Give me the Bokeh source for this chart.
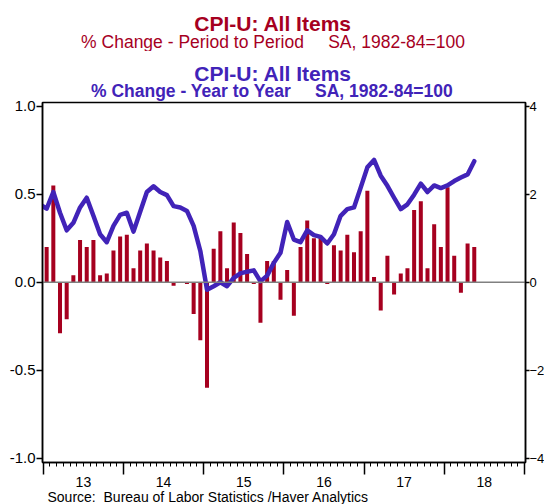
import pandas as pd
from bokeh.plotting import figure
from bokeh.layouts import column
from bokeh.models import (Range1d, LinearAxis, FixedTicker, NumeralTickFormatter,
                          Span, ColumnDataSource, Title)
from bokeh.core.properties import value
from bokeh.embed import file_html
from bokeh.resources import INLINE

# ---------------- data ----------------
months = [str(p) for p in pd.period_range("2012-12", "2018-05", freq="M")]

# CPI-U % change, period to period (left axis)
pct_period = [
    -0.02,
    0.20, 0.55, -0.29, -0.21, 0.04, 0.24, 0.20, 0.24, 0.04, 0.05, 0.18, 0.26,
    0.27, 0.08, 0.18, 0.22, 0.18, 0.14, 0.12, -0.02, 0.00, -0.01, -0.18, -0.33,
    -0.60, 0.19, 0.29, 0.08, 0.34, 0.28, 0.16, -0.01, -0.23, 0.12, 0.12, -0.10,
    0.07, -0.19, 0.20, 0.35, 0.25, 0.26, -0.01, 0.21, 0.18, 0.27, 0.17, 0.29,
    0.52, 0.03, -0.16, 0.15, -0.07, 0.05, 0.08, 0.41, 0.46, 0.08, 0.33, 0.20,
    0.54, 0.15, -0.06, 0.22, 0.20,
]

# CPI-U % change, year to year (right axis)
pct_year = [
    1.77,
    1.67, 2.05, 1.58, 1.18, 1.35, 1.70, 1.92, 1.51, 1.09, 0.91, 1.28, 1.53,
    1.58, 1.15, 1.60, 2.05, 2.18, 2.05, 1.98, 1.73, 1.70, 1.62, 1.28, 0.71,
    -0.17, -0.09, 0.00, -0.09, 0.10, 0.20, 0.24, 0.27, 0.02, 0.15, 0.44, 0.67,
    1.37, 0.97, 0.91, 1.18, 1.07, 1.03, 0.88, 1.09, 1.51, 1.66, 1.70, 2.15,
    2.61, 2.78, 2.42, 2.19, 1.92, 1.66, 1.77, 1.99, 2.24, 2.05, 2.20, 2.14,
    2.20, 2.30, 2.38, 2.45, 2.75,
]

years = [2013, 2014, 2015, 2016, 2017, 2018]
year_labels = ["13", "14", "15", "16", "17", "18"]
left_ticks = [-1.0, -0.5, 0.0, 0.5, 1.0]
right_ticks = [-4, -2, 0, 2, 4]

title_red = "CPI-U: All Items"
sub_red = "% Change - Period to Period\u00a0\u00a0\u00a0\u00a0 SA, 1982-84=100"
title_blue = "CPI-U: All Items"
sub_blue = "% Change - Year to Year\u00a0\u00a0\u00a0\u00a0 SA, 1982-84=100"
source_text = "Source:\u00a0 Bureau of Labor Statistics /Haver Analytics"

# ---------------- styling ----------------
RED = "#A6001F"
BLUE = "#4123B8"
FONT = "Liberation Sans"

FRAME_L = 42
FRAME_W = 483
FRAME_H = 360
TOP_H = 51          # red titles strip
MAIN_TOP = 51       # space above the main frame (blue titles)
MAIN_BOT = 13
BOT_H = 29
X0, X1 = 2012.99, 2019.014
PAGE_DX = 1         # page offset of the canvas


def strip(height, x_range):
    f = figure(frame_width=FRAME_W, frame_height=height, x_range=x_range,
               y_range=Range1d(height, 0), output_backend="svg", toolbar_location=None,
               x_axis_location=None, y_axis_location=None,
               min_border_left=FRAME_L, min_border_right=0,
               min_border_top=0, min_border_bottom=0)
    f.xgrid.visible = False
    f.ygrid.visible = False
    f.outline_line_color = None
    return f


# ---------------- red title strip (x in page pixels) ----------------
top = strip(TOP_H, Range1d(FRAME_L + PAGE_DX, FRAME_L + PAGE_DX + FRAME_W))
top.text(x=[273.5], y=[11.0], text=[title_red], text_align="center",
         text_baseline="top", text_font=value(FONT), text_font_size=value("21px"),
         text_font_style="bold", text_color=RED)
top.text(x=[273.5], y=[31.2], text=[sub_red], text_align="center",
         text_baseline="top", text_font=value(FONT), text_font_size=value("17.5px"),
         text_font_style="normal", text_color=RED)

# ---------------- main chart ----------------
per = pd.PeriodIndex(months, freq="M")
xpos = list(per.year + (per.month - 0.5) / 12.0)
src = ColumnDataSource(dict(x=xpos, mom=pct_period, yoy=pct_year))

xr = Range1d(X0, X1)
p = figure(frame_width=FRAME_W, frame_height=FRAME_H,
           x_range=xr, y_range=Range1d(-1.024, 1.021),
           output_backend="svg", toolbar_location=None, title=title_blue,
           min_border_left=FRAME_L, min_border_right=0,
           min_border_top=MAIN_TOP, min_border_bottom=MAIN_BOT,
           background_fill_color="white", border_fill_color="white")
# outer title line (blue, bold)
p.title.text_font = FONT
p.title.text_font_size = "21px"
p.title.text_font_style = "bold"
p.title.text_color = BLUE
p.title.align = "left"
p.title.offset = 151.75
p.title.standoff = -14.4
# inner subtitle line, next to the frame
p.add_layout(Title(text=sub_blue, text_font=FONT, text_font_size="17.5px",
                   text_font_style="bold", text_color=BLUE, align="left",
                   offset=48.5, standoff=3.2), "above")

p.xgrid.visible = False
p.ygrid.visible = False
p.outline_line_color = "black"
p.outline_line_width = 1.5
p.extra_y_ranges = {"yoy": Range1d(-4.096, 4.084)}

zero = Span(location=0, dimension="width", line_color="#808080", line_width=1.5, level="glyph")
p.add_layout(zero)

p.vbar(x="x", top="mom", bottom=0, width=0.05, source=src,
       fill_color=RED, line_color=None)
p.line(x="x", y="yoy", source=src, y_range_name="yoy",
       line_color=BLUE, line_width=4.5, line_join="round", line_cap="round")

ya = p.yaxis[0]
ya.ticker = FixedTicker(ticks=left_ticks)
ya.formatter = NumeralTickFormatter(format="0.0")
ya.major_tick_out = 6
ya.major_tick_in = 0
ya.minor_tick_out = 0
ya.minor_tick_in = 0
ya.major_label_standoff = 1
ya.major_label_text_font = FONT
ya.major_label_text_font_size = "15px"
ya.major_label_text_color = "black"
ya.axis_line_color = "black"
ya.axis_line_width = 1.5
ya.major_tick_line_color = "black"
ya.major_tick_line_width = 1.5

ra = LinearAxis(y_range_name="yoy", ticker=FixedTicker(ticks=right_ticks))
ra.major_tick_out = 4
ra.major_tick_in = 0
ra.minor_tick_out = 0
ra.minor_tick_in = 0
ra.major_label_standoff = 0
ra.major_label_text_font = FONT
ra.major_label_text_font_size = "13px"
ra.major_label_text_color = "black"
ra.axis_line_color = "black"
ra.axis_line_width = 1.5
ra.major_tick_line_color = "black"
ra.major_tick_line_width = 1.5
p.add_layout(ra, "right")

xa = p.xaxis[0]
boundaries = years + [years[-1] + 1]
xa.ticker = FixedTicker(ticks=boundaries,
                        minor_ticks=[y + m / 12.0 for y in years for m in range(1, 12)])
xa.major_label_overrides = {b: "" for b in boundaries}
xa.major_label_text_font_size = "0px"
xa.major_label_standoff = 0
xa.major_tick_out = 12
xa.major_tick_in = 0
xa.minor_tick_out = 4
xa.minor_tick_in = 0
xa.axis_line_color = "black"
xa.axis_line_width = 1.5
xa.major_tick_line_color = "black"
xa.major_tick_line_width = 1.5
xa.minor_tick_line_color = "black"
xa.minor_tick_line_width = 1

# ---------------- year labels and source strip ----------------
bot = strip(BOT_H, xr)
bot.text(x=[y + 0.5 for y in years], y=[1.5] * len(years), text=year_labels,
         text_align="center", text_baseline="top", text_font=value(FONT),
         text_font_size=value("14px"), text_color="black")
px_per_year = FRAME_W / (X1 - X0)
bot.text(x=[X0 + 5 / px_per_year], y=[13.3], text=[source_text],
         text_align="left", text_baseline="top", text_font=value(FONT),
         text_font_size=value("14px"), text_color="black")

layout = column(top, p, bot, spacing=0)
open("out.html", "w").write(file_html(layout, INLINE))
